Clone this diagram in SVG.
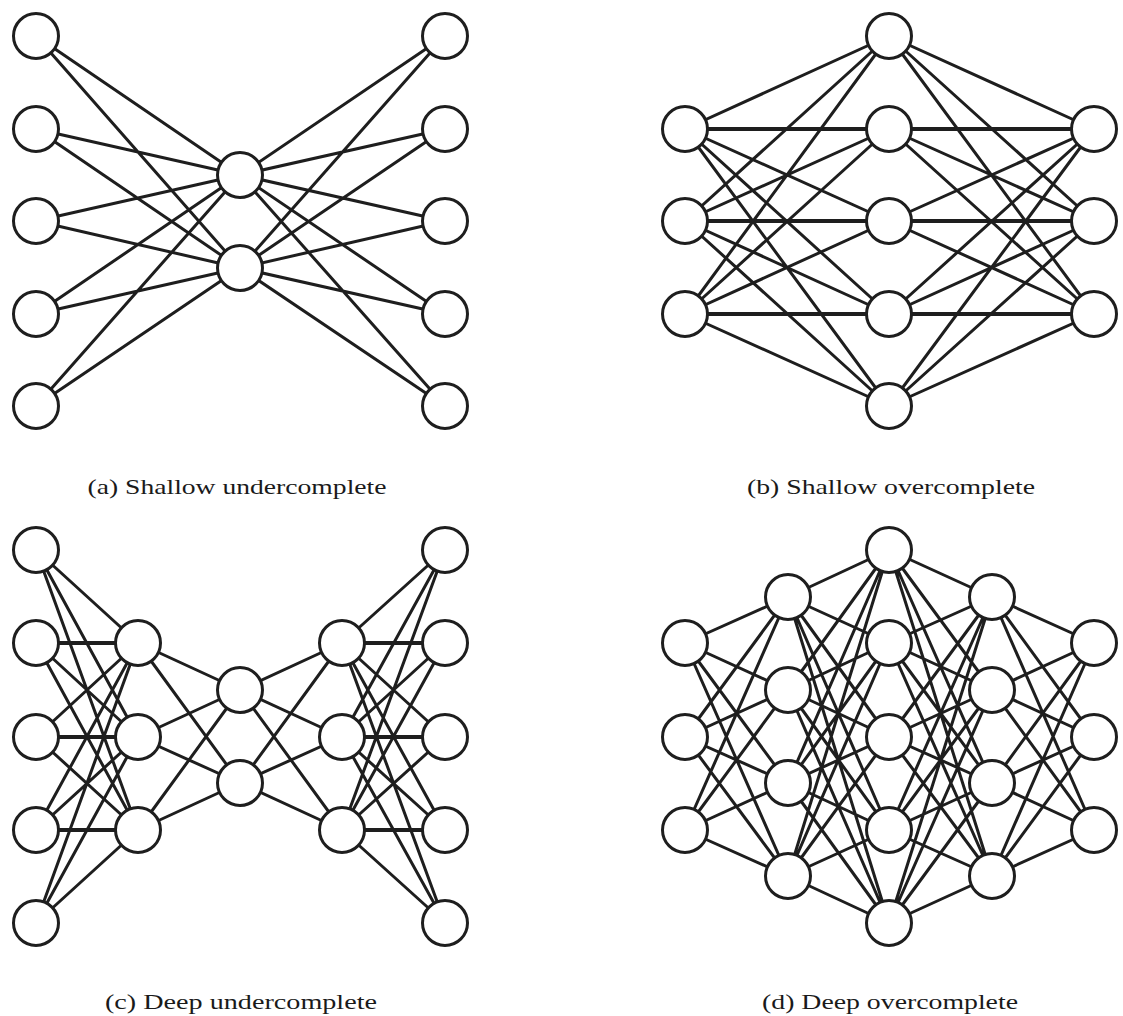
<svg xmlns="http://www.w3.org/2000/svg" width="1123" height="1016" viewBox="0 0 1123 1016">
  <style>
    .edge { fill: none; stroke: #1e1e1e; stroke-width: 3; stroke-linecap: round; }
    .edge.h { stroke-width: 4.2; }
    .node { fill: #ffffff; stroke: #1e1e1e; stroke-width: 3; }
    .cap { font-family: "Liberation Serif", "DejaVu Serif", serif; font-size: 22px; fill: #1a1a1a; text-anchor: middle; }
  </style>
  <rect width="1123" height="1016" fill="#ffffff"/>

  <!-- connectors -->
  <g id="connectors">
    <!-- (a) shallow undercomplete: 5-2-5 -->
    <path class="edge" d="M36 36L240 175M36 36L240 268M36 129L240 175M36 129L240 268M36 221L240 175M36 221L240 268M36 314L240 175M36 314L240 268M36 406L240 175M36 406L240 268"/>
    <path class="edge" d="M240 175L445 36M240 175L445 129M240 175L445 221M240 175L445 314M240 175L445 406M240 268L445 36M240 268L445 129M240 268L445 221M240 268L445 314M240 268L445 406"/>

    <!-- (b) shallow overcomplete: 3-5-3 -->
    <path class="edge" d="M685 129L889 36M685 129L889 221M685 129L889 314M685 129L889 406M685 221L889 36M685 221L889 129M685 221L889 314M685 221L889 406M685 314L889 36M685 314L889 129M685 314L889 221M685 314L889 406"/>
    <path class="edge" d="M889 36L1094 129M889 36L1094 221M889 36L1094 314M889 129L1094 221M889 129L1094 314M889 221L1094 129M889 221L1094 314M889 314L1094 129M889 314L1094 221M889 406L1094 129M889 406L1094 221M889 406L1094 314"/>
    <path class="edge h" d="M685 129L1094 129M685 221L1094 221M685 314L1094 314"/>

    <!-- (c) deep undercomplete: 5-3-2-3-5 -->
    <path class="edge" d="M36 550L138 643M36 550L138 737M36 550L138 830M36 643L138 737M36 643L138 830M36 737L138 643M36 737L138 830M36 830L138 643M36 830L138 737M36 923L138 643M36 923L138 737M36 923L138 830"/>
    <path class="edge h" d="M36 643L138 643M36 737L138 737M36 830L138 830"/>
    <path class="edge" d="M138 643L240 690M138 643L240 783M138 737L240 690M138 737L240 783M138 830L240 690M138 830L240 783"/>
    <path class="edge" d="M240 690L342 643M240 690L342 737M240 690L342 830M240 783L342 643M240 783L342 737M240 783L342 830"/>
    <path class="edge" d="M342 643L445 550M342 643L445 737M342 643L445 830M342 643L445 923M342 737L445 550M342 737L445 643M342 737L445 830M342 737L445 923M342 830L445 550M342 830L445 643M342 830L445 737M342 830L445 923"/>
    <path class="edge h" d="M342 643L445 643M342 737L445 737M342 830L445 830"/>

    <!-- (d) deep overcomplete: 3-4-5-4-3 -->
    <path class="edge" d="M685 643L788 597M685 643L788 690M685 643L788 783M685 643L788 876M685 737L788 597M685 737L788 690M685 737L788 783M685 737L788 876M685 830L788 597M685 830L788 690M685 830L788 783M685 830L788 876"/>
    <path class="edge" d="M788 597L889 550M788 597L889 643M788 597L889 737M788 597L889 830M788 597L889 923M788 690L889 550M788 690L889 643M788 690L889 737M788 690L889 830M788 690L889 923M788 783L889 550M788 783L889 643M788 783L889 737M788 783L889 830M788 783L889 923M788 876L889 550M788 876L889 643M788 876L889 737M788 876L889 830M788 876L889 923"/>
    <path class="edge" d="M889 550L992 597M889 550L992 690M889 550L992 783M889 550L992 876M889 643L992 597M889 643L992 690M889 643L992 783M889 643L992 876M889 737L992 597M889 737L992 690M889 737L992 783M889 737L992 876M889 830L992 597M889 830L992 690M889 830L992 783M889 830L992 876M889 923L992 597M889 923L992 690M889 923L992 783M889 923L992 876"/>
    <path class="edge" d="M992 597L1094 643M992 597L1094 737M992 597L1094 830M992 690L1094 643M992 690L1094 737M992 690L1094 830M992 783L1094 643M992 783L1094 737M992 783L1094 830M992 876L1094 643M992 876L1094 737M992 876L1094 830"/>
  </g>

  <!-- (a) nodes -->
  <g id="a-in-1"><circle class="node" cx="36" cy="36" r="22.5"/></g>
  <g id="a-in-2"><circle class="node" cx="36" cy="129" r="22.5"/></g>
  <g id="a-in-3"><circle class="node" cx="36" cy="221" r="22.5"/></g>
  <g id="a-in-4"><circle class="node" cx="36" cy="314" r="22.5"/></g>
  <g id="a-in-5"><circle class="node" cx="36" cy="406" r="22.5"/></g>
  <g id="a-code-1"><circle class="node" cx="240" cy="175" r="22.5"/></g>
  <g id="a-code-2"><circle class="node" cx="240" cy="268" r="22.5"/></g>
  <g id="a-out-1"><circle class="node" cx="445" cy="36" r="22.5"/></g>
  <g id="a-out-2"><circle class="node" cx="445" cy="129" r="22.5"/></g>
  <g id="a-out-3"><circle class="node" cx="445" cy="221" r="22.5"/></g>
  <g id="a-out-4"><circle class="node" cx="445" cy="314" r="22.5"/></g>
  <g id="a-out-5"><circle class="node" cx="445" cy="406" r="22.5"/></g>

  <!-- (b) nodes -->
  <g id="b-in-1"><circle class="node" cx="685" cy="129" r="22.5"/></g>
  <g id="b-in-2"><circle class="node" cx="685" cy="221" r="22.5"/></g>
  <g id="b-in-3"><circle class="node" cx="685" cy="314" r="22.5"/></g>
  <g id="b-code-1"><circle class="node" cx="889" cy="36" r="22.5"/></g>
  <g id="b-code-2"><circle class="node" cx="889" cy="129" r="22.5"/></g>
  <g id="b-code-3"><circle class="node" cx="889" cy="221" r="22.5"/></g>
  <g id="b-code-4"><circle class="node" cx="889" cy="314" r="22.5"/></g>
  <g id="b-code-5"><circle class="node" cx="889" cy="406" r="22.5"/></g>
  <g id="b-out-1"><circle class="node" cx="1094" cy="129" r="22.5"/></g>
  <g id="b-out-2"><circle class="node" cx="1094" cy="221" r="22.5"/></g>
  <g id="b-out-3"><circle class="node" cx="1094" cy="314" r="22.5"/></g>

  <!-- (c) nodes -->
  <g id="c-in-1"><circle class="node" cx="36" cy="550" r="22.5"/></g>
  <g id="c-in-2"><circle class="node" cx="36" cy="643" r="22.5"/></g>
  <g id="c-in-3"><circle class="node" cx="36" cy="737" r="22.5"/></g>
  <g id="c-in-4"><circle class="node" cx="36" cy="830" r="22.5"/></g>
  <g id="c-in-5"><circle class="node" cx="36" cy="923" r="22.5"/></g>
  <g id="c-enc-1"><circle class="node" cx="138" cy="643" r="22.5"/></g>
  <g id="c-enc-2"><circle class="node" cx="138" cy="737" r="22.5"/></g>
  <g id="c-enc-3"><circle class="node" cx="138" cy="830" r="22.5"/></g>
  <g id="c-code-1"><circle class="node" cx="240" cy="690" r="22.5"/></g>
  <g id="c-code-2"><circle class="node" cx="240" cy="783" r="22.5"/></g>
  <g id="c-dec-1"><circle class="node" cx="342" cy="643" r="22.5"/></g>
  <g id="c-dec-2"><circle class="node" cx="342" cy="737" r="22.5"/></g>
  <g id="c-dec-3"><circle class="node" cx="342" cy="830" r="22.5"/></g>
  <g id="c-out-1"><circle class="node" cx="445" cy="550" r="22.5"/></g>
  <g id="c-out-2"><circle class="node" cx="445" cy="643" r="22.5"/></g>
  <g id="c-out-3"><circle class="node" cx="445" cy="737" r="22.5"/></g>
  <g id="c-out-4"><circle class="node" cx="445" cy="830" r="22.5"/></g>
  <g id="c-out-5"><circle class="node" cx="445" cy="923" r="22.5"/></g>

  <!-- (d) nodes -->
  <g id="d-in-1"><circle class="node" cx="685" cy="643" r="22.5"/></g>
  <g id="d-in-2"><circle class="node" cx="685" cy="737" r="22.5"/></g>
  <g id="d-in-3"><circle class="node" cx="685" cy="830" r="22.5"/></g>
  <g id="d-enc-1"><circle class="node" cx="788" cy="597" r="22.5"/></g>
  <g id="d-enc-2"><circle class="node" cx="788" cy="690" r="22.5"/></g>
  <g id="d-enc-3"><circle class="node" cx="788" cy="783" r="22.5"/></g>
  <g id="d-enc-4"><circle class="node" cx="788" cy="876" r="22.5"/></g>
  <g id="d-code-1"><circle class="node" cx="889" cy="550" r="22.5"/></g>
  <g id="d-code-2"><circle class="node" cx="889" cy="643" r="22.5"/></g>
  <g id="d-code-3"><circle class="node" cx="889" cy="737" r="22.5"/></g>
  <g id="d-code-4"><circle class="node" cx="889" cy="830" r="22.5"/></g>
  <g id="d-code-5"><circle class="node" cx="889" cy="923" r="22.5"/></g>
  <g id="d-dec-1"><circle class="node" cx="992" cy="597" r="22.5"/></g>
  <g id="d-dec-2"><circle class="node" cx="992" cy="690" r="22.5"/></g>
  <g id="d-dec-3"><circle class="node" cx="992" cy="783" r="22.5"/></g>
  <g id="d-dec-4"><circle class="node" cx="992" cy="876" r="22.5"/></g>
  <g id="d-out-1"><circle class="node" cx="1094" cy="643" r="22.5"/></g>
  <g id="d-out-2"><circle class="node" cx="1094" cy="737" r="22.5"/></g>
  <g id="d-out-3"><circle class="node" cx="1094" cy="830" r="22.5"/></g>

  <!-- captions -->
  <g id="captions">
    <text class="cap" x="237" y="494" textLength="299" lengthAdjust="spacingAndGlyphs">(a) Shallow undercomplete</text>
    <text class="cap" x="891" y="494" textLength="288" lengthAdjust="spacingAndGlyphs">(b) Shallow overcomplete</text>
    <text class="cap" x="241" y="1009" textLength="272" lengthAdjust="spacingAndGlyphs">(c) Deep undercomplete</text>
    <text class="cap" x="890" y="1009" textLength="256" lengthAdjust="spacingAndGlyphs">(d) Deep overcomplete</text>
  </g>
</svg>
